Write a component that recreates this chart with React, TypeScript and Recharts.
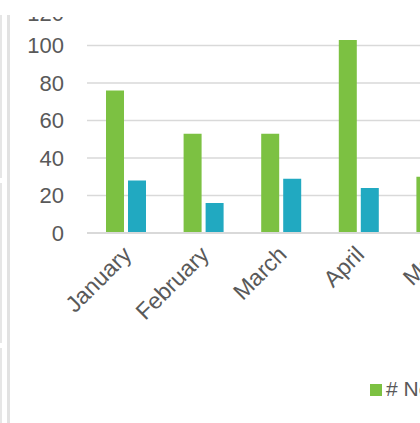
import { Bar, BarChart, CartesianGrid, Legend, XAxis, YAxis } from "recharts";

const months = ["January", "February", "March", "April", "May"];
const newCustomers = [76, 53, 53, 103, 30];
const returningCustomers = [28, 16, 29, 24, 15];
const yTicks = [0, 20, 40, 60, 80, 100, 120];

const data = months.map((month, i) => ({
  month,
  newCustomers: newCustomers[i],
  returningCustomers: returningCustomers[i],
}));

const FONT = "'Liberation Sans', Arial, sans-serif";
const TEXT = "#595959";

function MonthTick({ x, y, payload }: any) {
  return (
    <text
      x={x + 7}
      y={y + 15}
      transform={`rotate(-45 ${x + 7} ${y + 15})`}
      textAnchor="end"
      fill={TEXT}
      fontSize={23}
      fontFamily={FONT}
    >
      {payload.value}
    </text>
  );
}

export default function App() {
  return (
    <div
      style={{
        position: "fixed",
        left: 0,
        top: 0,
        width: 420,
        height: 423,
        overflow: "hidden",
        background: "#fff",
      }}
    >
      {/* panel borders from the surrounding sheet */}
      <div style={{ position: "absolute", left: 0, top: 15, width: 2, height: 163, background: "#e6e6e6" }} />
      <div style={{ position: "absolute", left: 0, top: 183, width: 2, height: 160, background: "#e6e6e6" }} />
      <div style={{ position: "absolute", left: 0, top: 348, width: 2, height: 75, background: "#e6e6e6" }} />
      <div style={{ position: "absolute", left: 7, top: 15, width: 3, height: 408, background: "#e2e2e2" }} />

      <div
        style={{
          position: "absolute",
          left: 10,
          top: 17,
          width: 410,
          height: 406,
          overflow: "hidden",
        }}
      >
        <div style={{ position: "absolute", left: -10, top: -17 }}>
          <BarChart
            width={500}
            height={423}
            data={data}
            margin={{ top: 8, right: 25, left: 0, bottom: 0 }}
            barSize={18}
            barGap={4}
          >
            <CartesianGrid vertical={false} stroke="#d9d9d9" strokeWidth={1.5} />
            <XAxis
              dataKey="month"
              axisLine={{ stroke: "#d9d9d9", strokeWidth: 2 }}
              tickLine={false}
              tick={<MonthTick />}
              interval={0}
              height={190}
            />
            <YAxis
              domain={[0, 120]}
              ticks={yTicks}
              width={87}
              axisLine={false}
              tickLine={false}
              tickSize={0}
              tickMargin={23}
              tick={{ fill: TEXT, fontSize: 22, fontFamily: FONT }}
            />
            <Legend
              layout="horizontal"
              verticalAlign="middle"
              align="center"
              iconType="square"
              iconSize={12}
              wrapperStyle={{
                position: "absolute",
                left: 370,
                top: 377,
                width: "max-content",
                whiteSpace: "nowrap",
                fontFamily: FONT,
                fontSize: 21,
                color: TEXT,
              }}
              formatter={(value) => <span style={{ color: TEXT }}>{value}</span>}
            />
            <Bar
              dataKey="newCustomers"
              name="# New Customers"
              fill="#7cc142"
              isAnimationActive={false}
            />
            <Bar
              dataKey="returningCustomers"
              name="# Returning Customers"
              fill="#21a9c1"
              isAnimationActive={false}
            />
          </BarChart>
        </div>
      </div>
    </div>
  );
}
